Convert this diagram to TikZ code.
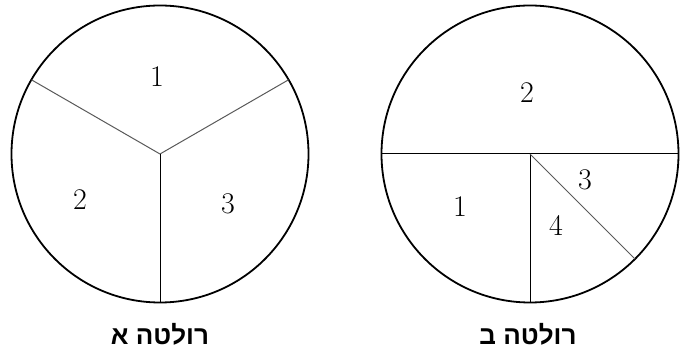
\documentclass[tikz,border=0pt]{standalone}
\usepackage{fontspec}
\newfontfamily\hebfont[Script=Hebrew]{Liberation Sans}
\TeXXeTstate=1
\usetikzlibrary{positioning}
\tikzset{
    % Wheel outline
    wheelnode/.style={
        circle,
        draw=black,
        line width=1.8pt,
        minimum size=297pt,
        inner sep=0pt,
        outer sep=0pt
    },
    % Divider between sectors
    divider/.style={
        line width=1pt,
        draw=black
    },
    % Slanted divider (looks lighter)
    slantdivider/.style={
        divider,
        draw=black!65
    },
    % Sector number
    sectorlabel/.style={
        font=\fontsize{30}{30}\selectfont,
        inner sep=0pt
    },
    % Caption under a wheel
    captionlabel/.style={
        font=\hebfont\bfseries\fontsize{26}{26}\selectfont,
        inner sep=0pt
    }
}
\begin{document}
\begin{tikzpicture}[x=1pt,y=-1pt]
    \useasboundingbox (0,0) rectangle (685,352);
    % wheel A
    \node[wheelnode] (wheelA) at (160,154) {};
    \draw[slantdivider] (wheelA.center) -- (wheelA.150);
    \draw[slantdivider] (wheelA.center) -- (wheelA.30);
    \draw[divider] (wheelA.center) -- (wheelA.270);
    \node[sectorlabel] (a1) at (157,77) {1};
    \node[sectorlabel] (a2) at (80,200) {2};
    \node[sectorlabel] (a3) at (228,204) {3};
    \node[captionlabel] (capA) at (160,334) {\beginR רולטה א\endR};
    % wheel B
    \node[wheelnode] (wheelB) at (530,154) {};
    \draw[divider] (wheelB.180) -- (wheelB.0);
    \draw[divider] (wheelB.center) -- (wheelB.270);
    \draw[slantdivider] (wheelB.center) -- (wheelB.315);
    \node[sectorlabel] (b2) at (527,93) {2};
    \node[sectorlabel] (b1) at (460,207) {1};
    \node[sectorlabel] (b3) at (585,180) {3};
    \node[sectorlabel] (b4) at (556,225) {4};
    \node[captionlabel] (capB) at (528,334) {\beginR רולטה ב\endR};
\end{tikzpicture}
\end{document}
